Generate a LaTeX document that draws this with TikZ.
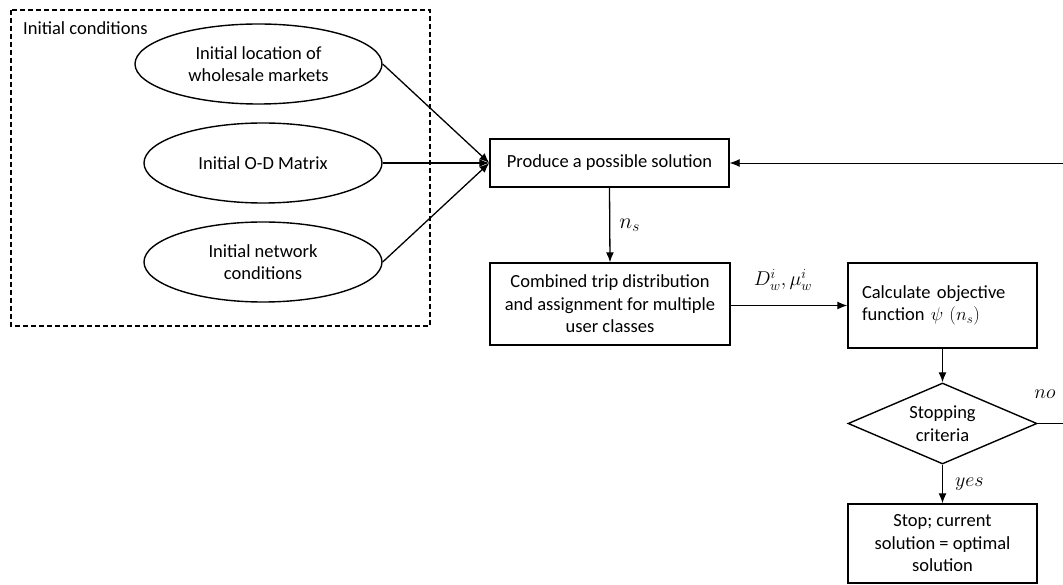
\RequirePackage{fix-cm}
\documentclass[tikz,border=0pt]{standalone}
\usepackage{fontspec}
\setmainfont{Carlito}
\usetikzlibrary{shapes.geometric,arrows.meta}
\begin{document}
\begin{tikzpicture}[x=1pt,y=-1pt,
  every node/.style={font=\fontsize{18.5}{22.5}\selectfont},
  box/.style={draw,line width=1.4pt,inner sep=0pt,align=center},
  ell/.style={draw,ellipse,line width=1.4pt,inner sep=0pt,align=center,minimum height=80pt},
  arr/.style={line width=1.3pt,-{Latex[length=10pt,width=8pt]}},
  lab/.style={inner sep=0pt},
  mlab/.style={inner sep=0pt,font=\fontsize{20}{24}\selectfont}
]
\useasboundingbox (0,0) rectangle (1063,585);
% dashed group
\draw[dashed,line width=1.1pt,dash pattern=on 5pt off 3pt] (11,10) rectangle (430,326);
\node[lab,anchor=west] (ic) at (23,28) {Initial conditions};
% ellipses
\node[ell,minimum width=247pt] (e1) at (258.5,64) {Initial location of\\wholesale markets};
\node[ell,minimum width=238pt] (e2) at (263,163) {Initial O-D Matrix};
\node[ell,minimum width=238pt] (e3) at (263,262) {Initial network\\conditions};
% boxes
\node[box,minimum width=239pt,minimum height=48pt] (prod) at (609.5,163) {Produce a possible solution};
\node[box,minimum width=240pt,minimum height=82pt] (comb) at (610,304) {Combined trip distribution\\and assignment for multiple\\user classes};
\node[box,minimum width=189pt,minimum height=85pt,text width=161pt,inner xsep=14pt,align=left] (calc) at (942.5,305.5) {Calculate objective\\function $\psi\ (n_s)$};
\node[draw,diamond,line width=1.4pt,inner sep=0pt,aspect=2.3,minimum width=189pt,minimum height=81pt,align=center] (stop) at (942.5,423.5) {Stopping\\criteria};
\node[box,minimum width=189pt,minimum height=79pt] (fin) at (942.5,543.5) {Stop; current\\solution = optimal\\solution};
% connectors
\draw[arr] (e1.east) -- (prod.west);
\draw[arr] (e2.east) -- (prod.west);
\draw[arr] (e3.east) -- (prod.west);
\draw[arr] (prod.south) -- node[mlab,right=9pt,font=\fontsize{22}{26}\selectfont] (ns) {$n_s$} (comb.north);
\draw[arr] (comb.east |- calc.west) -- (calc.west);
\node[mlab] (dl) at (783,280) {$D_w^i,\mu_w^i$};
\draw[arr] (calc.south) -- (stop.north);
\draw[arr] (stop.south) -- node[mlab,right=12pt] (yes) {$yes$} (fin.north);
\coordinate (r1) at (1075,423.5);
\coordinate (r2) at (1075,163);
\draw[line width=0.8pt] (stop.east) -- (r1) -- (r2);
\draw[line width=0.8pt,-{Latex[length=10pt,width=8pt]}] (r2) -- (prod.east);
\node[mlab] (no) at (1045,394) {$no$};
\end{tikzpicture}
\end{document}
